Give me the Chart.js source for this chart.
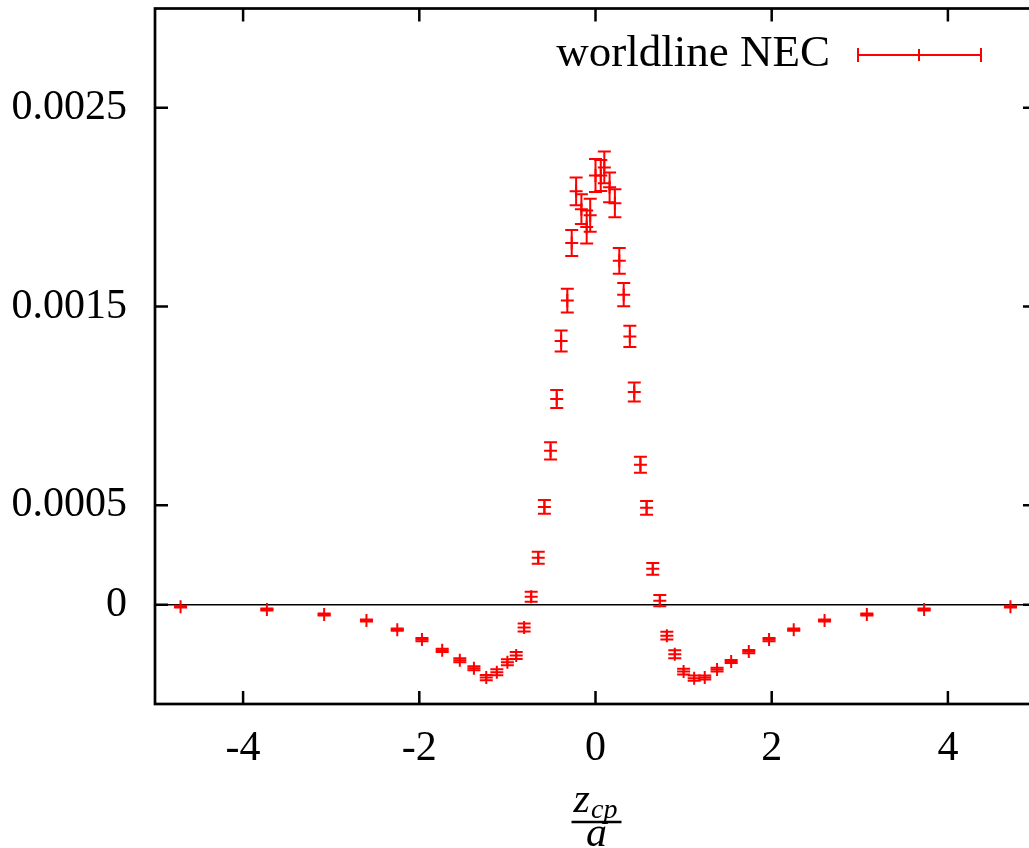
<!DOCTYPE html>
<html>
<head>
<meta charset="utf-8">
<title>worldline NEC</title>
<script src="https://cdn.jsdelivr.net/npm/chart.js@4.4.1/dist/chart.umd.min.js"></script>
<style>
  html, body { margin: 0; padding: 0; background: #fff; overflow: hidden; }
  #wrap { width: 1029px; height: 848px; overflow: hidden; }
</style>
</head>
<body>
<div id="wrap"><canvas id="necChart" width="1045" height="848"></canvas></div>
<script>
// data
const xValues = [-4.71, -3.73, -3.08, -2.60, -2.25, -1.97, -1.74, -1.54, -1.38, -1.24, -1.12, -1.00, -0.90,
  -0.81, -0.73, -0.65, -0.58, -0.51, -0.44, -0.39, -0.32, -0.27, -0.22, -0.16, -0.10, -0.06,
  0,
  0.06, 0.10, 0.16, 0.22, 0.27, 0.32, 0.39, 0.44, 0.51, 0.58, 0.65, 0.73, 0.81,
  0.90, 1.00, 1.12, 1.24, 1.38, 1.54, 1.74, 1.97, 2.25, 2.60, 3.08, 3.73, 4.71];

const necValues = [-0.00001, -0.000025, -0.00005, -0.00008, -0.000126, -0.000176, -0.00023, -0.00028, -0.00032,
  -0.000367, -0.00034, -0.00029, -0.000256, -0.000115, 0.00004, 0.000236, 0.000492, 0.000774, 0.001035,
  0.001327, 0.00153, 0.00182, 0.00208, 0.00199, 0.0019, 0.00196,
  0.00216,
  0.00216, 0.0022, 0.0021, 0.00202, 0.00173, 0.00156, 0.00135, 0.00107, 0.000704, 0.000487, 0.00018,
  0.00002, -0.000156, -0.00025, -0.000337, -0.00037, -0.000367, -0.000327, -0.000286, -0.000236,
  -0.000176, -0.000126, -0.00008, -0.00005, -0.000025, -0.00001];

const necErrors = [0.000005, 0.000005, 0.000005, 0.000005, 0.000006, 0.000008, 0.000008, 0.00001, 0.00001,
  0.000013, 0.000015, 0.000015, 0.000018, 0.00002, 0.000025, 0.00003, 0.000035, 0.000043, 0.000045,
  0.000053, 0.00006, 0.000065, 0.00007, 0.000075, 0.000083, 0.000083,
  0.000083,
  0.000078, 0.00008, 0.000075, 0.00007, 0.000065, 0.000058, 0.000053, 0.000048, 0.00004, 0.000035,
  0.00003, 0.000028, 0.00002, 0.00002, 0.000015, 0.000013, 0.00001, 0.00001, 0.000008, 0.000008,
  0.000008, 0.000006, 0.000005, 0.000005, 0.000005, 0.000005];

const xTicks = [-4, -2, 0, 2, 4];
const yTicks = [0, 0.0005, 0.0015, 0.0025];
const yTickLabels = ['0', '0.0005', '0.0015', '0.0025'];
const seriesLabel = 'worldline NEC';

const FONT = '"Liberation Serif", "DejaVu Serif", serif';
const RED = '#ff0000';

document.addEventListener("DOMContentLoaded", function () {
  const canvas = document.getElementById('necChart');
  const ctx = canvas.getContext('2d');

  // gnuplot style box, inward ticks and the zero axis
  const framePlugin = {
    id: 'frame',
    beforeDatasetsDraw(chart) {
      const c = chart.ctx;
      const a = chart.chartArea;
      const xs = chart.scales.x, ys = chart.scales.y;
      c.save();
      c.strokeStyle = '#000';
      // zero line
      c.lineWidth = 1.5;
      const y0 = ys.getPixelForValue(0);
      c.beginPath();
      c.moveTo(a.left, y0);
      c.lineTo(a.right, y0);
      c.stroke();
      // ticks
      c.lineWidth = 2.5;
      xTicks.forEach(v => {
        const px = xs.getPixelForValue(v);
        c.beginPath();
        c.moveTo(px, a.bottom); c.lineTo(px, a.bottom - 13);
        c.moveTo(px, a.top); c.lineTo(px, a.top + 13);
        c.stroke();
      });
      yTicks.forEach(v => {
        const py = ys.getPixelForValue(v);
        c.beginPath();
        c.moveTo(a.left, py); c.lineTo(a.left + 13, py);
        c.moveTo(a.right, py); c.lineTo(a.right - 13, py);
        c.stroke();
      });
      c.lineWidth = 2.7;
      c.strokeRect(a.left, a.top, a.right - a.left, a.bottom - a.top);
      c.restore();
    }
  };

  function drawErrorBar(c, px, top, bottom, cap) {
    c.beginPath();
    c.moveTo(px, top); c.lineTo(px, bottom);
    c.moveTo(px - cap, top); c.lineTo(px + cap, top);
    c.moveTo(px - cap, bottom); c.lineTo(px + cap, bottom);
    c.stroke();
  }

  // error bars from necErrors
  const errorBarPlugin = {
    id: 'errorBars',
    afterDatasetsDraw(chart) {
      const c = chart.ctx;
      const xs = chart.scales.x, ys = chart.scales.y;
      c.save();
      c.strokeStyle = RED;
      c.lineWidth = 2;
      xValues.forEach((x, i) => {
        const px = xs.getPixelForValue(x);
        const top = ys.getPixelForValue(necValues[i] + necErrors[i]);
        const bottom = ys.getPixelForValue(necValues[i] - necErrors[i]);
        drawErrorBar(c, px, top, bottom, 6.5);
      });
      c.restore();
    }
  };

  // key in the top right corner, and the fraction for the x title
  const keyPlugin = {
    id: 'keyAndTitle',
    afterDraw(chart) {
      const c = chart.ctx;
      c.save();
      c.fillStyle = '#000';
      c.font = '45px ' + FONT;
      c.textAlign = 'right';
      c.textBaseline = 'alphabetic';
      c.fillText(chart.data.datasets[0].label, 830, 66);

      c.strokeStyle = RED;
      c.lineWidth = 2;
      c.beginPath();
      c.moveTo(858, 55); c.lineTo(981, 55);
      c.moveTo(858, 48); c.lineTo(858, 62);
      c.moveTo(981, 48); c.lineTo(981, 62);
      c.moveTo(919, 49); c.lineTo(919, 61);
      c.stroke();

      // x axis title: z_cp / a
      const cx = chart.scales.x.getPixelForValue(0);
      c.textAlign = 'left';
      c.font = 'italic 42px ' + FONT;
      const zw = c.measureText('z').width;
      c.font = 'italic 28px ' + FONT;
      const sw = c.measureText('cp').width;
      const left = cx - (zw + sw + 1) / 2;
      c.font = 'italic 42px ' + FONT;
      c.fillText('z', left, 812);
      c.font = 'italic 28px ' + FONT;
      c.fillText('cp', left + zw + 1, 818);
      c.strokeStyle = '#000';
      c.lineWidth = 2.5;
      c.beginPath();
      c.moveTo(cx - 24, 822); c.lineTo(cx + 26, 822);
      c.stroke();
      c.font = 'italic 42px ' + FONT;
      c.textAlign = 'center';
      c.fillText('a', cx + 1, 846);
      c.restore();
    }
  };

  new Chart(ctx, {
    type: 'scatter',
    data: {
      datasets: [{
        label: seriesLabel,
        data: xValues.map((x, i) => ({ x: x, y: necValues[i] })),
        borderColor: RED,
        backgroundColor: RED,
        pointStyle: 'cross',
        pointRadius: 6.5,
        pointBorderWidth: 2,
        showLine: false
      }]
    },
    options: {
      responsive: false,
      animation: false,
      events: [],
      layout: { padding: { top: 7, right: 9, left: 0, bottom: 0 } },
      plugins: {
        legend: { display: false },
        tooltip: { enabled: false }
      },
      scales: {
        x: {
          type: 'linear',
          min: -5,
          max: 5,
          afterBuildTicks: scale => { scale.ticks = xTicks.map(v => ({ value: v })); },
          afterFit: scale => {
            scale.height = 144;
            scale.paddingLeft = 0;
            scale.paddingRight = 0;
          },
          grid: { display: false, drawTicks: false },
          border: { display: false },
          ticks: {
            color: '#000',
            padding: 20,
            maxRotation: 0,
            font: { family: FONT, size: 42 }
          }
        },
        y: {
          type: 'linear',
          min: -0.0005,
          max: 0.003,
          afterBuildTicks: scale => { scale.ticks = yTicks.map(v => ({ value: v })); },
          afterFit: scale => {
            scale.width = 155;
            scale.paddingTop = 0;
            scale.paddingBottom = 0;
          },
          grid: { display: false, drawTicks: false },
          border: { display: false },
          ticks: {
            color: '#000',
            padding: 28,
            font: { family: FONT, size: 42 },
            callback: value => {
              const i = yTicks.indexOf(value);
              return i >= 0 ? yTickLabels[i] : '';
            }
          }
        }
      }
    },
    plugins: [framePlugin, errorBarPlugin, keyPlugin]
  });
});
</script>
</body>
</html>
